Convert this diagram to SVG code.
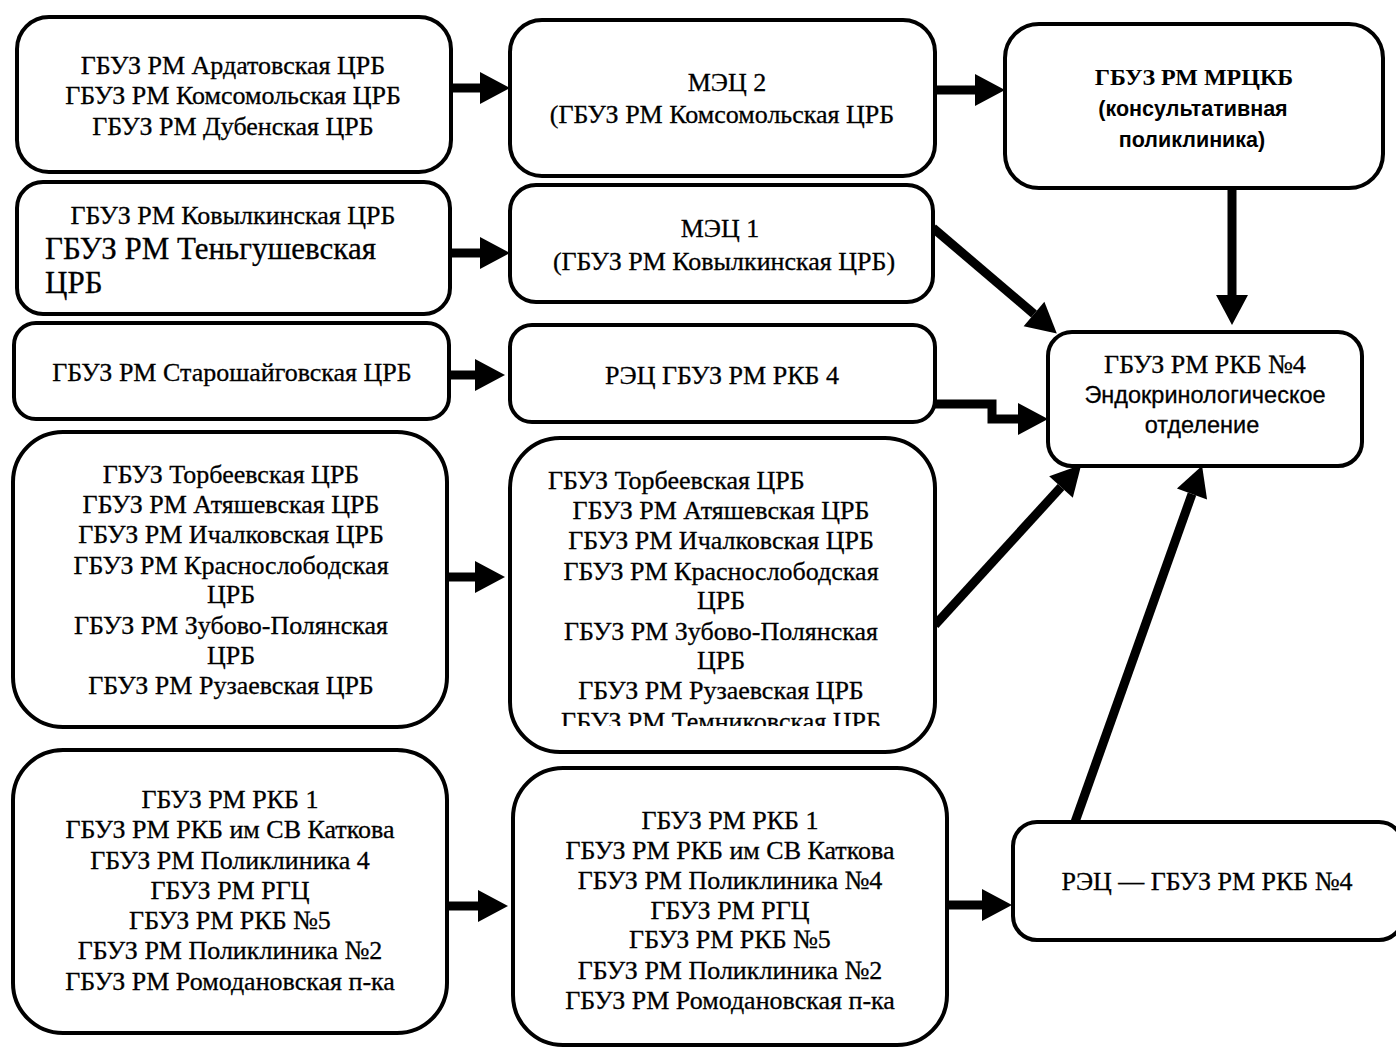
<svg xmlns="http://www.w3.org/2000/svg" width="1396" height="1048" viewBox="0 0 1396 1048">
<style>
.box{fill:#fff;stroke:#000;stroke-width:4}
.t{font-family:"Liberation Serif","Times New Roman",serif;font-size:26px;fill:#000;stroke:#000;stroke-width:0.3;text-anchor:middle}
.big{font-size:31px;text-anchor:start}
.s{font-family:"Liberation Sans",Arial,sans-serif;font-size:21.5px;font-weight:bold;fill:#000;text-anchor:middle}
.sn{font-family:"Liberation Sans",Arial,sans-serif;font-size:23.5px;fill:#000;stroke:#000;stroke-width:0.3;text-anchor:middle}
.b{font-weight:bold;font-size:24px;stroke-width:0}
.c{fill:none;stroke:#000;stroke-width:9}
</style>
<defs>
<marker id="ah" markerUnits="userSpaceOnUse" markerWidth="32" markerHeight="32" refX="0" refY="16" orient="auto" overflow="visible">
<path d="M0,0 L30,16 L0,32 Z" fill="#000"/>
</marker>
<clipPath id="clipB4"><rect x="510" y="438" width="425" height="288"/></clipPath>
</defs>
<rect width="1396" height="1048" fill="#fff"/>

<g id="connectors">
<line class="c" x1="451" y1="88" x2="480" y2="88" marker-end="url(#ah)"/>
<line class="c" x1="450" y1="253" x2="480" y2="253" marker-end="url(#ah)"/>
<line class="c" x1="449" y1="375" x2="475" y2="375" marker-end="url(#ah)"/>
<line class="c" x1="447" y1="577" x2="475" y2="577" marker-end="url(#ah)"/>
<line class="c" x1="447" y1="906" x2="478" y2="906" marker-end="url(#ah)"/>
<line class="c" x1="935" y1="90" x2="975" y2="90" marker-end="url(#ah)"/>
<line class="c" x1="1232" y1="188" x2="1232" y2="295" marker-end="url(#ah)"/>
<line class="c" x1="933" y1="228" x2="1034" y2="314" marker-end="url(#ah)"/>
<path class="c" d="M935,404 H992 V419 H1018" marker-end="url(#ah)"/>
<line class="c" x1="935" y1="625" x2="1061" y2="487" marker-end="url(#ah)"/>
<line class="c" x1="1075" y1="822" x2="1192" y2="494" marker-end="url(#ah)"/>
<line class="c" x1="947" y1="905" x2="982" y2="905" marker-end="url(#ah)"/>
</g>

<g id="n-a1">
<rect class="box" x="17" y="17" width="434" height="155" rx="32"/>
<text class="t" x="233" y="74">ГБУЗ РМ Ардатовская ЦРБ</text>
<text class="t" x="233" y="104">ГБУЗ РМ Комсомольская ЦРБ</text>
<text class="t" x="233" y="135">ГБУЗ РМ Дубенская ЦРБ</text>
</g>
<g id="n-a2">
<rect class="box" x="17" y="182" width="433" height="132" rx="26"/>
<text class="t" x="233" y="224">ГБУЗ РМ Ковылкинская ЦРБ</text>
<text class="t big" x="45" y="259">ГБУЗ РМ Теньгушевская</text>
<text class="t big" x="45" y="293">ЦРБ</text>
</g>
<g id="n-a3">
<rect class="box" x="14" y="323" width="435" height="96" rx="22"/>
<text class="t" x="232" y="381">ГБУЗ РМ Старошайговская ЦРБ</text>
</g>
<g id="n-a4">
<rect class="box" x="13" y="432" width="434" height="295" rx="50"/>
<text class="t" x="231" y="483">ГБУЗ Торбеевская ЦРБ</text>
<text class="t" x="231" y="513">ГБУЗ РМ Атяшевская ЦРБ</text>
<text class="t" x="231" y="543">ГБУЗ РМ Ичалковская ЦРБ</text>
<text class="t" x="231" y="574">ГБУЗ РМ Краснослободская</text>
<text class="t" x="231" y="603">ЦРБ</text>
<text class="t" x="231" y="634">ГБУЗ РМ Зубово-Полянская</text>
<text class="t" x="231" y="664">ЦРБ</text>
<text class="t" x="231" y="694">ГБУЗ РМ Рузаевская ЦРБ</text>
</g>
<g id="n-a5">
<rect class="box" x="13" y="750" width="434" height="283" rx="50"/>
<text class="t" x="230" y="808">ГБУЗ РМ РКБ 1</text>
<text class="t" x="230" y="838">ГБУЗ РМ РКБ им СВ Каткова</text>
<text class="t" x="230" y="869">ГБУЗ РМ Поликлиника 4</text>
<text class="t" x="230" y="899">ГБУЗ РМ РГЦ</text>
<text class="t" x="230" y="929">ГБУЗ РМ РКБ №5</text>
<text class="t" x="230" y="959">ГБУЗ РМ Поликлиника №2</text>
<text class="t" x="230" y="990">ГБУЗ РМ Ромодановская п-ка</text>
</g>

<g id="n-b1">
<rect class="box" x="510" y="20" width="425" height="156" rx="32"/>
<text class="t" x="727" y="91">МЭЦ 2</text>
<text class="t" x="722" y="123">(ГБУЗ РМ Комсомольская ЦРБ</text>
</g>
<g id="n-b2">
<rect class="box" x="510" y="185" width="423" height="117" rx="26"/>
<text class="t" x="720" y="237">МЭЦ 1</text>
<text class="t" x="724" y="270">(ГБУЗ РМ Ковылкинская ЦРБ)</text>
</g>
<g id="n-b3">
<rect class="box" x="510" y="325" width="425" height="97" rx="22"/>
<text class="t" x="722" y="384">РЭЦ ГБУЗ РМ РКБ 4</text>
</g>
<g id="n-b4">
<rect class="box" x="510" y="438" width="425" height="314" rx="50"/>
<g clip-path="url(#clipB4)">
<text class="t" x="548" y="489" style="text-anchor:start">ГБУЗ Торбеевская ЦРБ</text>
<text class="t" x="721" y="519">ГБУЗ РМ Атяшевская ЦРБ</text>
<text class="t" x="721" y="549">ГБУЗ РМ Ичалковская ЦРБ</text>
<text class="t" x="721" y="580">ГБУЗ РМ Краснослободская</text>
<text class="t" x="721" y="609">ЦРБ</text>
<text class="t" x="721" y="640">ГБУЗ РМ Зубово-Полянская</text>
<text class="t" x="721" y="669">ЦРБ</text>
<text class="t" x="721" y="699">ГБУЗ РМ Рузаевская ЦРБ</text>
<text class="t" x="721" y="730">ГБУЗ РМ Темниковская ЦРБ</text>
</g>
</g>
<g id="n-b5">
<rect class="box" x="513" y="768" width="434" height="277" rx="50"/>
<text class="t" x="730" y="829">ГБУЗ РМ РКБ 1</text>
<text class="t" x="730" y="859">ГБУЗ РМ РКБ им СВ Каткова</text>
<text class="t" x="730" y="889">ГБУЗ РМ Поликлиника №4</text>
<text class="t" x="730" y="919">ГБУЗ РМ РГЦ</text>
<text class="t" x="730" y="948">ГБУЗ РМ РКБ №5</text>
<text class="t" x="730" y="979">ГБУЗ РМ Поликлиника №2</text>
<text class="t" x="730" y="1009">ГБУЗ РМ Ромодановская п-ка</text>
</g>

<g id="n-c1">
<rect class="box" x="1005" y="24" width="378" height="164" rx="34"/>
<text class="t b" x="1194" y="85">ГБУЗ РМ МРЦКБ</text>
<text class="s" x="1193" y="116">(консультативная</text>
<text class="s" x="1192" y="147">поликлиника)</text>
</g>
<g id="n-c2">
<rect class="box" x="1048" y="332" width="314" height="134" rx="24"/>
<text class="t" x="1205" y="373">ГБУЗ РМ РКБ №4</text>
<text class="sn" x="1205" y="403">Эндокринологическое</text>
<text class="sn" x="1202" y="433">отделение</text>
</g>
<g id="n-c3">
<rect class="box" x="1013" y="822" width="390" height="118" rx="24"/>
<text class="t" x="1207" y="890">РЭЦ — ГБУЗ РМ РКБ №4</text>
</g>
</svg>
